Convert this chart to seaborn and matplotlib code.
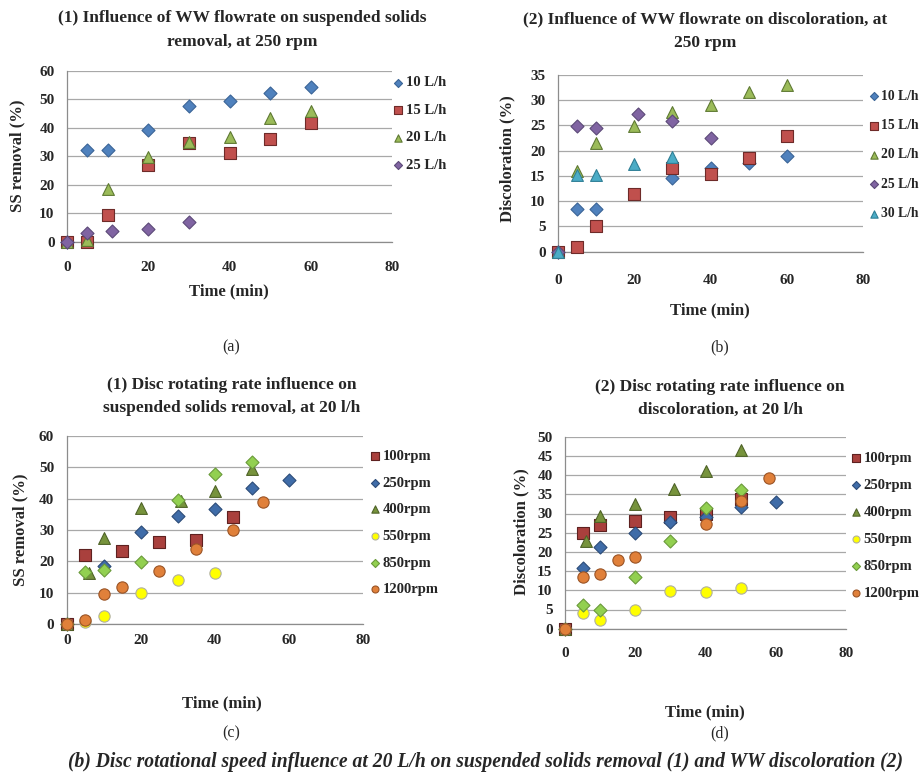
import matplotlib
matplotlib.use("Agg")
import matplotlib.pyplot as plt
import pandas as pd
import seaborn as sns

# ---------------- data: panel (a) SS removal vs time, 250 rpm ----------------
a_t_10 = [0, 5, 10, 20, 30, 40, 50, 60]
a_v_10 = [0, 32.2, 32.2, 39.2, 47.7, 49.5, 52.0, 54.4]
a_t_15 = [0, 5, 10, 20, 30, 40, 50, 60]
a_v_15 = [0, 0, 9.2, 26.9, 34.7, 31.1, 36.0, 41.8]
a_t_20 = [0, 5, 10, 20, 30, 40, 50, 60]
a_v_20 = [0, 0.6, 18.4, 29.6, 34.9, 36.6, 43.4, 45.8]
a_t_25 = [0, 5, 11, 20, 30]
a_v_25 = [0, 2.9, 3.7, 4.4, 6.9]

# ---------------- data: panel (b) discoloration vs time, 250 rpm -------------
b_t_10 = [0, 5, 10, 30, 40, 50, 60]
b_v_10 = [0, 8.4, 8.4, 14.5, 16.5, 17.6, 19.0]
b_t_15 = [0, 5, 10, 20, 30, 40, 50, 60]
b_v_15 = [0, 0.9, 5.1, 11.4, 16.6, 15.3, 18.6, 22.9]
b_t_20 = [0, 5, 10, 20, 30, 40, 50, 60]
b_v_20 = [0, 15.9, 21.5, 24.8, 27.7, 29.0, 31.7, 33.0]
b_t_25 = [0, 5, 10, 21, 30, 40]
b_v_25 = [0, 24.8, 24.5, 27.2, 25.8, 22.6]
b_t_30 = [0, 5, 10, 20, 30]
b_v_30 = [0, 15.1, 15.1, 17.4, 18.8]

# ---------------- data: panel (c) SS removal vs time, 20 l/h ------------------
c_t_100 = [0, 5, 15, 25, 35, 45]
c_v_100 = [0, 22.1, 23.3, 26.3, 26.8, 34.3]
c_t_250 = [0, 10, 20, 30, 40, 50, 60]
c_v_250 = [0, 18.5, 29.4, 34.6, 36.7, 43.3, 46.0]
c_t_400 = [0, 6, 10, 20, 31, 40, 50]
c_v_400 = [0, 16.4, 27.3, 37.1, 39.3, 42.6, 49.5]
c_t_550 = [0, 5, 10, 20, 30, 40]
c_v_550 = [0, 0.7, 2.7, 10.0, 14.0, 16.2]
c_t_850 = [0, 5, 10, 20, 30, 40, 50]
c_v_850 = [0, 16.5, 17.2, 19.9, 39.7, 47.8, 51.8]
c_t_1200 = [0, 5, 10, 15, 25, 35, 45, 53]
c_v_1200 = [0, 1.3, 9.7, 11.9, 17.0, 23.9, 30.0, 38.8]

# ---------------- data: panel (d) discoloration vs time, 20 l/h ---------------
d_t_100 = [0, 5, 10, 20, 30, 40, 50]
d_v_100 = [0, 25.0, 27.0, 28.0, 29.2, 29.8, 33.8]
d_t_250 = [0, 5, 10, 20, 30, 40, 50, 60]
d_v_250 = [0, 15.9, 21.4, 25.0, 27.9, 29.2, 31.6, 33.1]
d_t_400 = [0, 6, 10, 20, 31, 40, 50]
d_v_400 = [0, 22.8, 29.3, 32.6, 36.4, 41.1, 46.5]
d_t_550 = [0, 5, 10, 20, 30, 40, 50]
d_v_550 = [0, 4.2, 2.3, 4.9, 9.7, 9.6, 10.7]
d_t_850 = [0, 5, 10, 20, 30, 40, 50]
d_v_850 = [0, 6.1, 4.9, 13.4, 22.8, 31.5, 36.0]
d_t_1200 = [0, 5, 10, 15, 20, 40, 50, 58]
d_v_1200 = [0, 13.5, 14.3, 18.0, 18.8, 27.3, 33.2, 39.2]

flow_labels_a = ["10 L/h", "15 L/h", "20 L/h", "25 L/h"]
flow_labels_b = ["10 L/h", "15 L/h", "20 L/h", "25 L/h", "30 L/h"]
rpm_labels = ["100rpm", "250rpm", "400rpm", "550rpm", "850rpm", "1200rpm"]
x_ticks = [0, 20, 40, 60, 80]

# ---------------- styling ----------------
flow_colors = {"10 L/h": "#4F81BD", "15 L/h": "#C0504D", "20 L/h": "#9BBB59",
               "25 L/h": "#8064A2", "30 L/h": "#4BACC6"}
flow_edges = {"10 L/h": "#3A6496", "15 L/h": "#6E2B29", "20 L/h": "#5F7A33",
              "25 L/h": "#5C4A78", "30 L/h": "#2F7F96"}
flow_markers = {"10 L/h": "D", "15 L/h": "s", "20 L/h": "^", "25 L/h": "D", "30 L/h": "^"}
rpm_colors = {"100rpm": "#A9403D", "250rpm": "#3F6CA8", "400rpm": "#77933C",
              "550rpm": "#FFFF00", "850rpm": "#92D050", "1200rpm": "#E0803A"}
rpm_edges = {"100rpm": "#5E2120", "250rpm": "#2C4C78", "400rpm": "#4F6328",
             "550rpm": "#B0B0A0", "850rpm": "#6A9A3A", "1200rpm": "#9A5426"}
rpm_markers = {"100rpm": "s", "250rpm": "D", "400rpm": "^", "550rpm": "o",
               "850rpm": "D", "1200rpm": "o"}
marker_sizes = {"s": 78, "D": 44, "^": 72, "o": 66}

sns.set_theme(style="white")
plt.rcParams["font.family"] = ["Liberation Serif", "DejaVu Serif"]
plt.rcParams["font.weight"] = "bold"

W, H = 922, 774
fig = plt.figure(figsize=(W / 100, H / 100), dpi=100)
fig.patch.set_facecolor("white")


def fx(x):
    return x / W


def fy(y):
    return 1 - y / H


def make_ax(x0, x1, y0, y1):
    return fig.add_axes([fx(x0), fy(y1), fx(x1 - x0), (y1 - y0) / H])


def to_df(series):
    rows = []
    for lab, ts, vs in series:
        for t, v in zip(ts, vs):
            rows.append({"Time": t, "Value": v, "Series": lab})
    return pd.DataFrame(rows)


def draw(ax, series, colors, edges, markers, ymax, ystep, xpad):
    df = to_df(series)
    labels = [s[0] for s in series]
    for lab in labels:
        sub = df[df["Series"] == lab]
        m = markers[lab]
        sns.scatterplot(data=sub, x="Time", y="Value", color=colors[lab], marker=m,
                        s=marker_sizes[m], edgecolor=edges[lab], linewidth=0.8,
                        ax=ax, clip_on=False, zorder=3, label=lab, legend=True)
    ax.set_xlim(0, 80)
    ax.set_ylim(0, ymax)
    ax.set_xticks(x_ticks)
    ax.set_yticks(list(range(0, ymax + 1, ystep)))
    ax.grid(axis="y", color="#A8A8A8", linewidth=0.9)
    ax.grid(axis="x", visible=False)
    for sp in ["top", "right"]:
        ax.spines[sp].set_visible(False)
    for sp in ["left", "bottom"]:
        ax.spines[sp].set_color("#8C8C8C")
        ax.spines[sp].set_linewidth(0.9)
    ax.tick_params(axis="x", length=3, color="#8C8C8C", pad=xpad, labelsize=11)
    ax.tick_params(axis="y", length=0, pad=9, labelsize=11)
    for lbl in ax.get_xticklabels() + ax.get_yticklabels():
        lbl.set_fontweight("bold")
    ax.set_xlabel("")
    ax.set_ylabel("")
    ax.set_facecolor("white")


def legend(ax, x_left, y_mid, spacing, size):
    h, l = ax.get_legend_handles_labels()
    leg = ax.legend(h, l, loc="center left", bbox_to_anchor=(fx(x_left), fy(y_mid)),
                    bbox_transform=fig.transFigure, frameon=False, markerscale=0.62,
                    handlelength=0.6, handletextpad=0.2, borderpad=0, borderaxespad=0,
                    labelspacing=spacing, prop={"family": "Liberation Serif",
                                                "weight": "bold", "size": size})
    return leg


title_kw = dict(ha="center", va="center", fontsize=12.5, fontweight="bold", linespacing=1.6)
lab_kw = dict(ha="center", va="center", fontsize=12, fontweight="bold")

# ---------------- panel (a) ----------------
ax_a = make_ax(67, 392, 70.7, 241.7)
draw(ax_a, [(flow_labels_a[0], a_t_10, a_v_10), (flow_labels_a[1], a_t_15, a_v_15),
            (flow_labels_a[2], a_t_20, a_v_20), (flow_labels_a[3], a_t_25, a_v_25)],
     flow_colors, flow_edges, flow_markers, 60, 10, 11)
legend(ax_a, 394, 124, 0.98, 10.5)
fig.text(fx(242), fy(30), "(1) Influence of WW flowrate on suspended solids\nremoval, at 250 rpm", **title_kw)
fig.text(fx(229), fy(291), "Time (min)", **lab_kw)
fig.text(fx(17), fy(156), "SS removal (%)", rotation=90, **lab_kw)
fig.text(fx(231), fy(347), "(a)", ha="center", va="center", fontsize=11.5, fontweight="normal")

# ---------------- panel (b) ----------------
ax_b = make_ax(558, 863, 75, 251.7)
draw(ax_b, [(flow_labels_b[0], b_t_10, b_v_10), (flow_labels_b[1], b_t_15, b_v_15),
            (flow_labels_b[2], b_t_20, b_v_20), (flow_labels_b[3], b_t_25, b_v_25),
            (flow_labels_b[4], b_t_30, b_v_30)],
     flow_colors, flow_edges, flow_markers, 35, 5, 13)
legend(ax_b, 870, 155, 1.2, 9.8)
fig.text(fx(705), fy(31), "(2) Influence of WW flowrate on discoloration, at\n250 rpm", **title_kw)
fig.text(fx(710), fy(310), "Time (min)", **lab_kw)
fig.text(fx(507), fy(159), "Discoloration (%)", rotation=90, **lab_kw)
fig.text(fx(720), fy(347), "(b)", ha="center", va="center", fontsize=11.5, fontweight="normal")

# ---------------- panel (c) ----------------
ax_c = make_ax(66.7, 362.7, 436, 624)
draw(ax_c, [(rpm_labels[0], c_t_100, c_v_100), (rpm_labels[1], c_t_250, c_v_250),
            (rpm_labels[2], c_t_400, c_v_400), (rpm_labels[3], c_t_550, c_v_550),
            (rpm_labels[4], c_t_850, c_v_850), (rpm_labels[5], c_t_1200, c_v_1200)],
     rpm_colors, rpm_edges, rpm_markers, 60, 10, 4)
legend(ax_c, 371, 523, 0.92, 10.5)
fig.text(fx(232), fy(396.5), "(1) Disc rotating rate influence on\nsuspended solids removal, at 20 l/h", **title_kw)
fig.text(fx(222), fy(703), "Time (min)", **lab_kw)
fig.text(fx(20), fy(530), "SS removal (%)", rotation=90, **lab_kw)
fig.text(fx(231), fy(733), "(c)", ha="center", va="center", fontsize=11.5, fontweight="normal")

# ---------------- panel (d) ----------------
ax_d = make_ax(565, 846, 436.7, 628.7)
draw(ax_d, [(rpm_labels[0], d_t_100, d_v_100), (rpm_labels[1], d_t_250, d_v_250),
            (rpm_labels[2], d_t_400, d_v_400), (rpm_labels[3], d_t_550, d_v_550),
            (rpm_labels[4], d_t_850, d_v_850), (rpm_labels[5], d_t_1200, d_v_1200)],
     rpm_colors, rpm_edges, rpm_markers, 50, 5, 10)
legend(ax_d, 852, 526, 0.95, 10.5)
fig.text(fx(720), fy(398.5), "(2) Disc rotating rate influence on\ndiscoloration, at 20 l/h", **title_kw)
fig.text(fx(705), fy(712), "Time (min)", **lab_kw)
fig.text(fx(521), fy(532), "Discoloration (%)", rotation=90, **lab_kw)
fig.text(fx(720), fy(733), "(d)", ha="center", va="center", fontsize=11.5, fontweight="normal")

# ---------------- overall caption ----------------
fig.text(fx(485), fy(762),
         "(b) Disc rotational speed influence at 20 L/h on suspended solids removal (1) and WW discoloration (2)",
         ha="center", va="center", fontsize=14.1, fontweight="bold", fontstyle="italic")

fig.savefig("out.png", dpi=100, facecolor="white")
